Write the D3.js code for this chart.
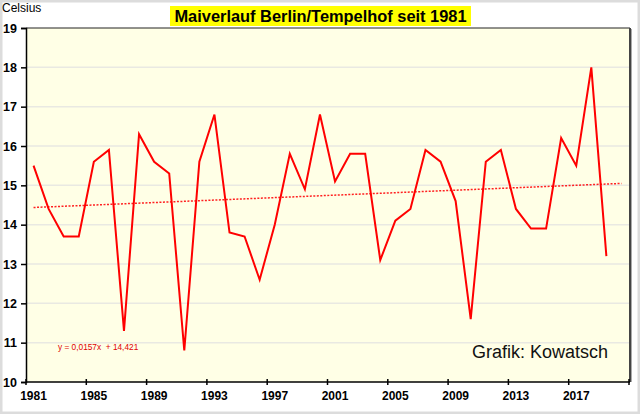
<!DOCTYPE html>
<html><head><meta charset="utf-8">
<script src="https://cdn.jsdelivr.net/npm/d3@7"></script>
<style>body{margin:0;background:#fff;}svg{display:block;font-family:Arial,"Liberation Sans",sans-serif;}</style>
</head><body>
<svg id="c" width="640" height="414"></svg>
<script>
const years = [1981,1982,1983,1984,1985,1986,1987,1988,1989,1990,1991,1992,1993,1994,1995,1996,1997,1998,1999,2000,2001,2002,2003,2004,2005,2006,2007,2008,2009,2010,2011,2012,2013,2014,2015,2016,2017,2018,2019,2020];
const mayTemps = [15.5,14.4,13.7,13.7,15.6,15.9,11.3,16.3,15.6,15.3,10.8,15.6,16.8,13.8,13.7,12.6,14.0,15.8,14.9,16.8,15.1,15.8,15.8,13.1,14.1,14.4,15.9,15.6,14.6,11.6,15.6,15.9,14.4,13.9,13.9,16.2,15.5,18.0,13.2];
const xTickLabels = [1981,1985,1989,1993,1997,2001,2005,2009,2013,2017];
const yTicks = [10,11,12,13,14,15,16,17,18,19];
const trendSlope = 0.0157, trendIntercept = 14.421;
const titleText = "Maiverlauf Berlin/Tempelhof seit 1981";

const svg = d3.select("#c");
const L = 26, R = 629, T = 28, B = 382;

// outer frame
svg.append("rect").attr("x",1).attr("y",1).attr("width",638).attr("height",412)
  .attr("fill","#fff").attr("stroke","#dcdcdc").attr("stroke-width",3);

const x = d3.scaleBand().domain(years).range([L,R]).paddingInner(0).paddingOuter(0);
const y = d3.scaleLinear().domain([10,19]).range([B,T]);

// plot background
svg.append("rect").attr("x",L).attr("y",T).attr("width",R-L).attr("height",B-T).attr("fill","#ffffe6");

// gridlines
svg.append("g").selectAll("line").data(yTicks.filter(v=>v>10&&v<19)).join("line")
  .attr("x1",L).attr("x2",R).attr("y1",d=>y(d)).attr("y2",d=>y(d))
  .attr("stroke","#e9e9e2").attr("stroke-width",1.5);

// plot frame top/right
svg.append("line").attr("x1",L).attr("x2",R+1).attr("y1",T).attr("y2",T).attr("stroke","#222").attr("stroke-width",1);
svg.append("line").attr("x1",R+1).attr("x2",R+1).attr("y1",T).attr("y2",B).attr("stroke","#444").attr("stroke-width",2);
svg.append("line").attr("x1",R+2.5).attr("x2",R+2.5).attr("y1",T+1).attr("y2",B).attr("stroke","#aaa").attr("stroke-width",1);

// axes
const yAxis = d3.axisLeft(y).tickValues(yTicks).tickSize(5).tickPadding(4).tickFormat(d3.format("d"));
const gy = svg.append("g").attr("transform",`translate(${L},0)`).call(yAxis);
gy.select(".domain").attr("stroke","#000").attr("stroke-width",1.5);
gy.selectAll(".tick line").attr("stroke","#000").attr("stroke-width",1.5);
gy.selectAll(".tick text").attr("font-size",12.5).attr("font-weight","bold").attr("fill","#000").attr("font-family","Arial,'Liberation Sans',sans-serif");

const xAxis = d3.axisBottom(x).tickValues(xTickLabels).tickSize(0).tickPadding(9).tickFormat(d3.format("d"));
const gx = svg.append("g").attr("transform",`translate(0,${B})`).call(xAxis);
gx.select(".domain").remove();
gx.selectAll(".tick text").attr("font-size",12).attr("font-weight","bold").attr("fill","#000").attr("font-family","Arial,'Liberation Sans',sans-serif");
svg.append("line").attr("x1",L).attr("x2",R+1).attr("y1",B).attr("y2",B).attr("stroke","#000").attr("stroke-width",1.5);
// tick marks at category boundaries, every 4 categories
svg.append("g").selectAll("line").data(years.filter((d,i)=>i%4===0).concat([null])).join("line")
  .attr("x1",d=>d===null?R:x(d)).attr("x2",d=>d===null?R:x(d))
  .attr("y1",B-3).attr("y2",B+3).attr("stroke","#000").attr("stroke-width",1.5);

const cx = d => x(d) + x.bandwidth()/2;

// trend line
const tYears = [years[0], years[years.length-1]];
svg.append("line")
  .attr("x1",cx(tYears[0])).attr("y1",y(trendSlope*1+trendIntercept))
  .attr("x2",cx(tYears[1])).attr("y2",y(trendSlope*years.length+trendIntercept))
  .attr("stroke","#ff2020").attr("stroke-width",1.5).attr("stroke-dasharray","2,1.5");

// data line
const line = d3.line().x((d,i)=>cx(years[i])).y(d=>y(d));
svg.append("path").datum(mayTemps).attr("d",line).attr("fill","none")
  .attr("stroke","#ff0000").attr("stroke-width",2).attr("stroke-linejoin","miter");

// equation
svg.append("text").attr("x",58).attr("y",350).attr("font-size",8.3).attr("fill","#e00000")
  .attr("xml:space","preserve").text("y = 0,0157x  + 14,421");

// credit
svg.append("text").attr("x",608).attr("y",358).attr("text-anchor","end").attr("font-size",18).attr("fill","#111").text("Grafik: Kowatsch");

// y unit
svg.append("text").attr("x",2).attr("y",12).attr("font-size",12).attr("fill","#000").text("Celsius");

// title
const tx = 170, tw = 301;
svg.append("rect").attr("x",tx).attr("y",6).attr("width",tw).attr("height",20).attr("fill","#ffff00");
svg.append("text").attr("x",tx+tw/2).attr("y",22).attr("text-anchor","middle").attr("font-size",16.4)
  .attr("font-weight","bold").attr("fill","#000").text(titleText);
</script>
</body></html>
